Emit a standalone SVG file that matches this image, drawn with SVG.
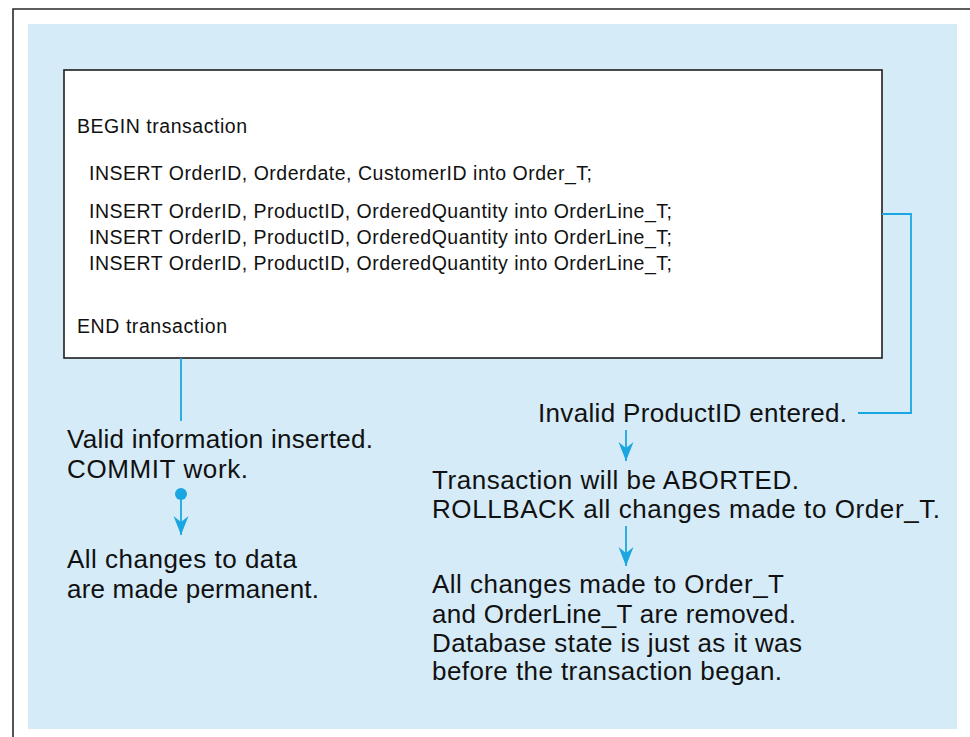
<svg xmlns="http://www.w3.org/2000/svg" width="970" height="737" viewBox="0 0 970 737">
<style>
  .box { fill: #ffffff; stroke: #1e1e1e; stroke-width: 1.6; }
  .code { font-family: "Liberation Sans", Arial, sans-serif; font-size: 19.5px; fill: #111; }
  .note { font-family: "Liberation Sans", Arial, sans-serif; font-size: 26px; fill: #111; }
  .conn { fill: none; stroke: #1aa7e1; stroke-width: 1.8; }
</style>
<defs>
  <marker id="arrow" markerUnits="userSpaceOnUse" viewBox="-20 -8 20 16" refX="0" refY="0" markerWidth="20" markerHeight="16" orient="auto">
    <path d="M0,0 L-19,-7.5 L-13,0 L-19,7.5 Z" fill="#1aa7e1"/>
  </marker>
</defs>
<rect x="0" y="0" width="970" height="737" fill="#ffffff"/>
<g id="frame">
  <path d="M13,737 L13,9 L970,9" fill="none" stroke="#2a2a2a" stroke-width="1.6"/>
  <rect x="28" y="24" width="929" height="705" fill="#d5ebf8"/>
</g>
<g id="transaction-box">
  <rect class="box" x="64" y="70" width="818" height="288"/>
  <text class="code" x="77" y="133" textLength="170" lengthAdjust="spacing">BEGIN transaction</text>
  <text class="code" x="89" y="180" textLength="503" lengthAdjust="spacing">INSERT OrderID, Orderdate, CustomerID into Order_T;</text>
  <text class="code" x="89" y="218" textLength="583" lengthAdjust="spacing">INSERT OrderID, ProductID, OrderedQuantity into OrderLine_T;</text>
  <text class="code" x="89" y="244" textLength="583" lengthAdjust="spacing">INSERT OrderID, ProductID, OrderedQuantity into OrderLine_T;</text>
  <text class="code" x="89" y="270" textLength="583" lengthAdjust="spacing">INSERT OrderID, ProductID, OrderedQuantity into OrderLine_T;</text>
  <text class="code" x="77" y="333" textLength="150" lengthAdjust="spacing">END transaction</text>
</g>
<g id="connectors">
  <path class="conn" d="M181,358 L181,421"/>
  <circle cx="181" cy="494" r="6" fill="#1aa7e1"/>
  <path class="conn" d="M181,494 L181,535" marker-end="url(#arrow)"/>
  <path class="conn" d="M882,214 L911,214 L911,413 L858,413"/>
  <path class="conn" d="M626,430 L626,461" marker-end="url(#arrow)"/>
  <path class="conn" d="M626,526 L626,566" marker-end="url(#arrow)"/>
</g>
<g id="commit-note">
  <text class="note" x="67" y="448" textLength="306" lengthAdjust="spacing">Valid information inserted.</text>
  <text class="note" x="67" y="478" textLength="181" lengthAdjust="spacing">COMMIT work.</text>
</g>
<g id="permanent-note">
  <text class="note" x="67" y="568" textLength="230" lengthAdjust="spacing">All changes to data</text>
  <text class="note" x="67" y="598" textLength="252" lengthAdjust="spacing">are made permanent.</text>
</g>
<g id="invalid-note">
  <text class="note" x="538" y="422" textLength="309" lengthAdjust="spacing">Invalid ProductID entered.</text>
</g>
<g id="abort-note">
  <text class="note" x="432" y="489" textLength="367" lengthAdjust="spacing">Transaction will be ABORTED.</text>
  <text class="note" x="432" y="518" textLength="508" lengthAdjust="spacing">ROLLBACK all changes made to Order_T.</text>
</g>
<g id="removed-note">
  <text class="note" x="432" y="593" textLength="352" lengthAdjust="spacing">All changes made to Order_T</text>
  <text class="note" x="432" y="623" textLength="364" lengthAdjust="spacing">and OrderLine_T are removed.</text>
  <text class="note" x="432" y="652" textLength="370" lengthAdjust="spacing">Database state is just as it was</text>
  <text class="note" x="432" y="680" textLength="350" lengthAdjust="spacing">before the transaction began.</text>
</g>
</svg>
